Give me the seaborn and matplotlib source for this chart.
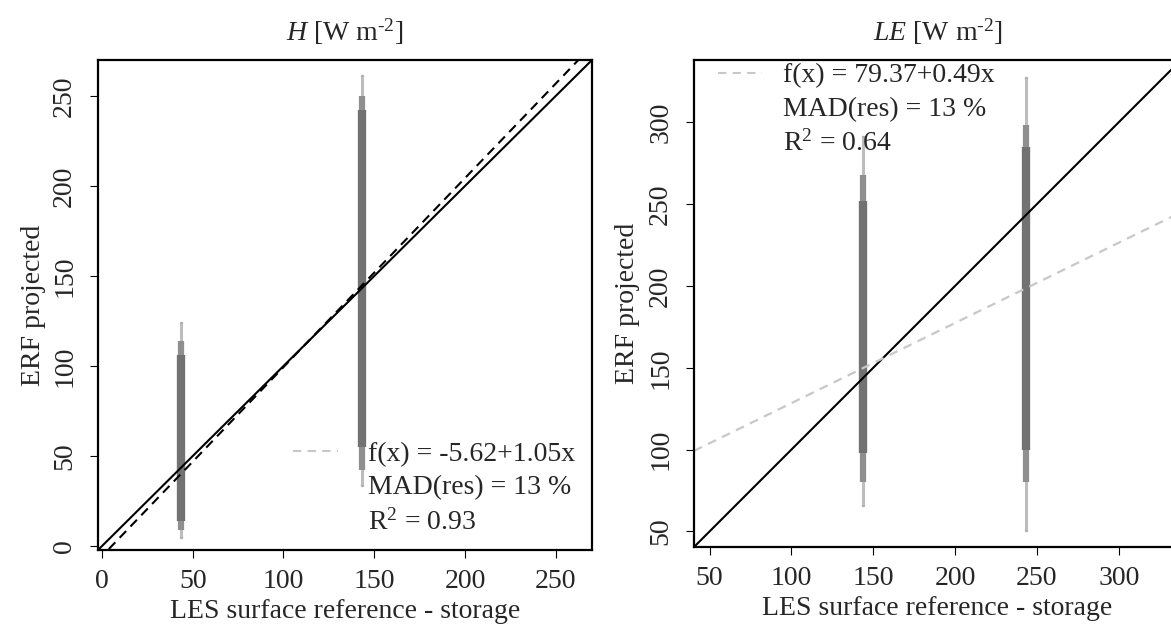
import numpy as np
import pandas as pd
import matplotlib
matplotlib.use("Agg")
import matplotlib.pyplot as plt
import seaborn as sns
from matplotlib.lines import Line2D

sns.set_theme(style="white")
plt.rcParams['font.family'] = ['Liberation Serif', 'DejaVu Serif']
plt.rcParams['mathtext.fontset'] = 'custom'
plt.rcParams['mathtext.rm'] = 'Liberation Serif'
plt.rcParams['mathtext.it'] = 'Liberation Serif:italic'

# ---------------- data ----------------
# H panel: strip positions (x) and vertical extent of the point clouds
H_strip_x = [43.5, 143.5]
H_tail_lo = [5, 34]
H_tail_hi = [124, 261]
H_core_lo = [9, 42]
H_core_hi = [114, 250]
H_dense_lo = [14, 55]
H_dense_hi = [106, 242]
H_fit = (-5.62, 1.05)
H_stats = ["f(x) = -5.62+1.05x", "MAD(res) = 13 %", "R$^2$ = 0.93"]

# LE panel
LE_strip_x = [143.5, 243.5]
LE_tail_lo = [66, 51]
LE_tail_hi = [291, 327]
LE_core_lo = [80, 80]
LE_core_hi = [268, 298]
LE_dense_lo = [98, 100]
LE_dense_hi = [252, 285]
LE_fit = (79.37, 0.49)
LE_stats = ["f(x) = 79.37+0.49x", "MAD(res) = 13 %", "R$^2$ = 0.64"]

H_ticks = [0, 50, 100, 150, 200, 250]
LE_ticks = [50, 100, 150, 200, 250, 300]

FS = 20

fig = plt.figure(figsize=(11.71, 6.30), dpi=100)
ax1 = fig.add_axes([98/1171, 1-550/630, 494/1171, 490/630])
ax2 = fig.add_axes([694/1171, 1-547/630, 487/1171, 487/630])


def draw_strips(ax, xs, tlo, thi, clo, chi, dlo, dhi):
    df = pd.DataFrame({"x": xs, "tlo": tlo, "thi": thi, "clo": clo,
                       "chi": chi, "dlo": dlo, "dhi": dhi})
    ax.vlines(df["x"], df["tlo"], df["thi"], colors="#bdbdbd", lw=2.2)
    ax.vlines(df["x"], df["clo"], df["chi"], colors="#8f8f8f", lw=4.5)
    ax.vlines(df["x"], df["dlo"], df["dhi"], colors="#727272", lw=6.0)
    ends = pd.DataFrame({"x": list(xs) * 2, "y": list(tlo) + list(thi)})
    sns.scatterplot(data=ends, x="x", y="y", ax=ax, color="#a8a8a8",
                    s=6, linewidth=0, legend=False)


def style_axis(ax, lim, ticks, title, ylabx):
    ax.set_xlim(lim)
    ax.set_ylim(lim)
    ax.set_xticks(ticks)
    ax.set_yticks(ticks)
    ax.set_xticklabels([str(t) for t in ticks])
    ax.set_yticklabels([str(t) for t in ticks], rotation=90, va='center')
    ax.tick_params(axis='both', direction='out', length=6, width=0.8,
                   color='black', labelsize=FS, bottom=True, left=True)
    ax.tick_params(axis='x', pad=8)
    ax.tick_params(axis='y', pad=9)
    for sp in ax.spines.values():
        sp.set_color('black')
        sp.set_linewidth(1.6)
    ax.set_title(title, fontsize=FS, pad=14)
    ax.set_xlabel("LES surface reference - storage", fontsize=FS)
    ax.set_ylabel("ERF projected", fontsize=FS)
    ax.yaxis.set_label_coords(ylabx, 0.5)
    ax.xaxis.set_label_coords(0.5, -0.10)
    ax.grid(False)


# ---------------- left panel ----------------
limH = (-2.2, 270)
draw_strips(ax1, H_strip_x, H_tail_lo, H_tail_hi, H_core_lo, H_core_hi,
            H_dense_lo, H_dense_hi)
xx = np.array(limH)
ax1.plot(xx, xx, color='black', lw=1.5)
ax1.plot(xx, H_fit[0] + H_fit[1] * xx, color='black', lw=1.5,
         dashes=(4.5, 3))
style_axis(ax1, limH, H_ticks, r'$\mathit{H}$ [W m$^{\text{-2}}$]', -0.105)

handles = [Line2D([], [], color='#c8c8c8', lw=1.5, dashes=(4, 3)),
           Line2D([], [], color='none'), Line2D([], [], color='none')]
ax1.legend(handles, H_stats, loc='upper left', bbox_to_anchor=(0.395, 0.222),
           frameon=False, fontsize=FS, handlelength=1.6, handletextpad=1.1,
           labelspacing=0.3, borderpad=0, borderaxespad=0)

# ---------------- right panel ----------------
limLE = (40.5, 338)
draw_strips(ax2, LE_strip_x, LE_tail_lo, LE_tail_hi, LE_core_lo, LE_core_hi,
            LE_dense_lo, LE_dense_hi)
xx = np.array(limLE)
ax2.plot(xx, xx, color='black', lw=1.5)
ax2.plot(xx, LE_fit[0] + LE_fit[1] * xx, color='#c8c8c8', lw=1.6,
         dashes=(4, 3))
style_axis(ax2, limLE, LE_ticks, r'$\mathit{LE}$ [W m$^{\text{-2}}$]', -0.111)

handles = [Line2D([], [], color='#c8c8c8', lw=1.5, dashes=(4, 3)),
           Line2D([], [], color='none'), Line2D([], [], color='none')]
ax2.legend(handles, LE_stats, loc='upper left', bbox_to_anchor=(0.049, 0.994),
           frameon=False, fontsize=FS, handlelength=1.6, handletextpad=0.75,
           labelspacing=0.3, borderpad=0, borderaxespad=0)

fig.savefig("out.png", dpi=100)
